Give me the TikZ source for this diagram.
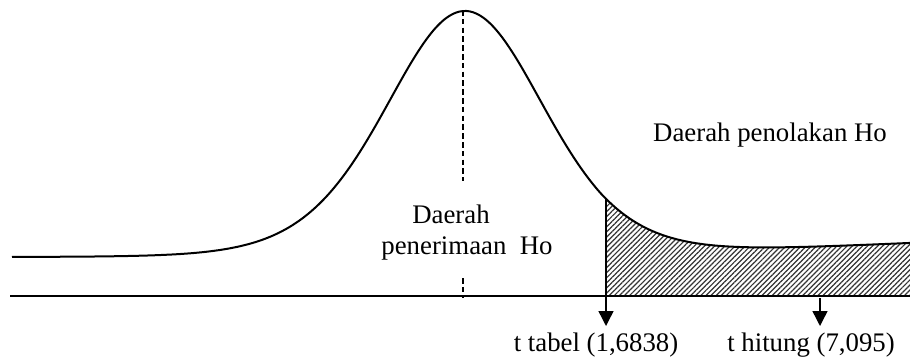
\documentclass[tikz,border=0pt]{standalone}
\usepackage{fontspec}
\setmainfont{Liberation Serif}
\usetikzlibrary{patterns.meta,arrows.meta}
\tikzset{
  curveline/.style={line width=1pt},
  axisline/.style={line width=1pt},
  lbl/.style={font=\fontsize{13.4}{16}\selectfont, inner sep=0pt},
  downarrow/.style={line width=0.7pt, -{Triangle[length=7.5pt,width=7.5pt]}},
  dashedline/.style={line width=1pt, dash pattern=on 2.8pt off 1.6pt},
  hatch/.style={pattern={Lines[angle=45,distance=1.8pt,line width=0.6pt]}, pattern color=black!80},
  declare function={curvey(\t)=257-246*(1+((\t-465)/81.3)^2/10)^(-5.5)-0.045*max(0,\t-600);}
}
\begin{document}
\begin{tikzpicture}[x=0.5pt,y=-0.5pt]
\useasboundingbox (0,0) rectangle (910,360);
% hatched area
\fill[hatch] (606,296) -- plot[domain=606:910,samples=80] (\x,{curvey(\x)}) -- (910,296) -- cycle;
% curve
\draw[curveline] plot[domain=12:910,samples=260,smooth] (\x,{curvey(\x)});
% baseline
\coordinate (bl) at (10,296);
\coordinate (br) at (910,296);
\draw[axisline] (bl) -- (br);
% dashed mean line (interrupted by the label)
\coordinate (mtop) at (463,10);
\coordinate (mmid1) at (463,181);
\coordinate (mmid2) at (463,278);
\coordinate (mbot) at (463,298);
\draw[dashedline] (mtop) -- (mmid1);
\draw[dashedline] (mmid2) -- (mbot);
% critical line
\coordinate (ctop) at (606,{curvey(606)});
\coordinate (cbot) at (606,296);
\draw[line width=1pt] (ctop) -- (cbot);
% arrows
\coordinate (a1s) at (606,296);
\coordinate (a1e) at (606,326);
\draw[downarrow] (a1s) -- (a1e);
\coordinate (a2s) at (820,298);
\coordinate (a2e) at (820,326);
\draw[downarrow] (a2s) -- (a2e);
% labels
\node[lbl] (d1) at (451,214) {Daerah};
\node[lbl] (d2) at (467,248) {penerimaan\ \ Ho};
\node[lbl] (d3) at (770,135) {Daerah penolakan Ho};
\node[lbl] (t1) at (596,345) {t tabel (1,6838)};
\node[lbl] (t2) at (811,345) {t hitung (7,095)};
\end{tikzpicture}
\end{document}
